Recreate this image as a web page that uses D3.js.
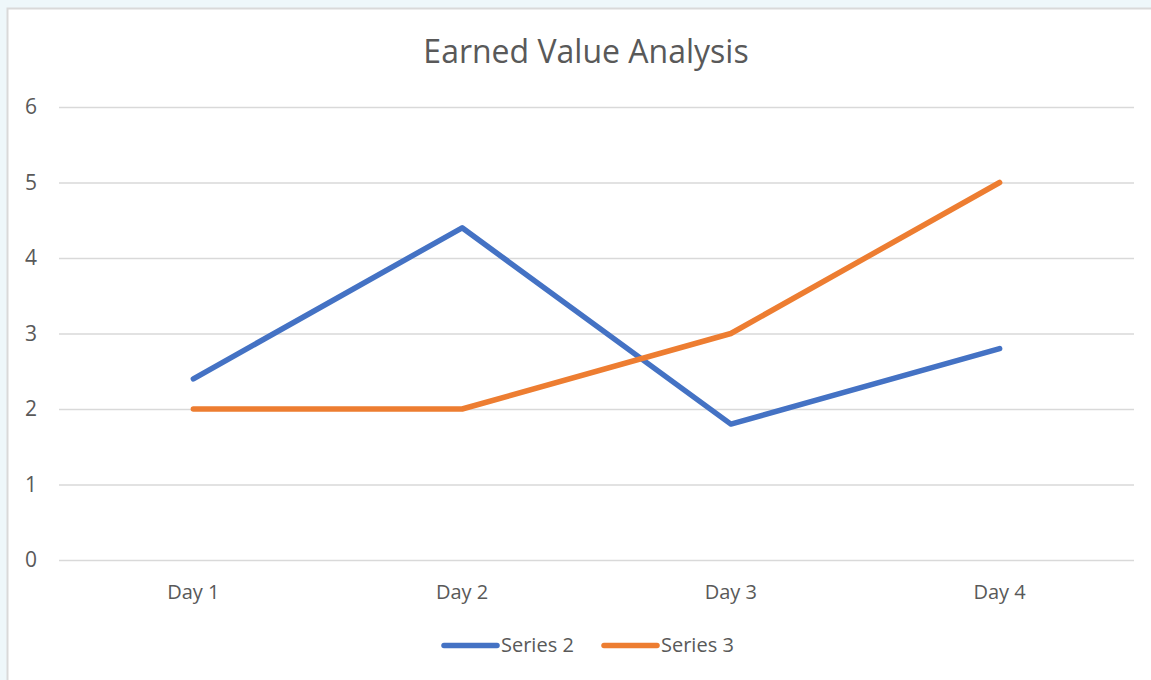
<!DOCTYPE html>
<html>
<head>
<meta charset="utf-8">
<script src="https://cdn.jsdelivr.net/npm/d3@7"></script>
<style>
  html, body { margin: 0; padding: 0; background: #eef7fa; overflow: hidden; }
  svg { display: block; }
  text { font-family: "Open Sans", "Noto Sans", sans-serif; fill: #595959; }
</style>
</head>
<body>
<svg id="chart" width="1151" height="680"></svg>
<script>
const categories = ["Day 1", "Day 2", "Day 3", "Day 4"];
const series2 = [2.4, 4.4, 1.8, 2.8];
const series3 = [2, 2, 3, 5];
const seriesNames = ["Series 2", "Series 3"];
const seriesColors = ["#4472c4", "#ed7d31"];
const yTicks = [0, 1, 2, 3, 4, 5, 6];

const svg = d3.select("#chart");

// chart area (runs off the right and bottom edge, like the screenshot)
svg.append("rect")
    .attr("x", 7.5).attr("y", 8.5)
    .attr("width", 1160).attr("height", 690)
    .attr("fill", "#ffffff")
    .attr("stroke", "#d9d9d9")
    .attr("stroke-width", 2);

const plot = { left: 59, right: 1134, top: 107, bottom: 560 };

const x = d3.scaleBand()
    .domain(categories)
    .range([plot.left, plot.right]);

const y = d3.scaleLinear()
    .domain([0, 6])
    .range([plot.bottom, plot.top]);

// gridlines
svg.append("g")
    .selectAll("line")
    .data(yTicks)
    .join("line")
    .attr("x1", plot.left).attr("x2", plot.right)
    .attr("y1", d => y(d) + 0.5).attr("y2", d => y(d) + 0.5)
    .attr("stroke", "#d9d9d9")
    .attr("stroke-width", 1.5);

// y labels
svg.append("g")
    .selectAll("text")
    .data(yTicks)
    .join("text")
    .attr("x", 31)
    .attr("y", d => y(d))
    .attr("dy", "0.35em")
    .attr("text-anchor", "middle")
    .style("font-size", "21px")
    .text(d => d);

// x labels
svg.append("g")
    .selectAll("text")
    .data(categories)
    .join("text")
    .attr("x", d => x(d) + x.bandwidth() / 2)
    .attr("y", 592)
    .attr("dy", "0.35em")
    .attr("text-anchor", "middle")
    .style("font-size", "20px")
    .text(d => d);

// title
svg.append("text")
    .attr("x", 586)
    .attr("y", 52)
    .attr("dy", "0.35em")
    .attr("text-anchor", "middle")
    .style("font-size", "32px")
    .text("Earned Value Analysis");

const line = d3.line()
    .x((d, i) => x(categories[i]) + x.bandwidth() / 2)
    .y(d => y(d));

[series2, series3].forEach((s, i) => {
    svg.append("path")
        .datum(s)
        .attr("d", line)
        .attr("fill", "none")
        .attr("stroke", seriesColors[i])
        .attr("stroke-width", 5.5)
        .attr("stroke-linecap", "round")
        .attr("stroke-linejoin", "round");
});

// legend
const legendItems = [
    { name: seriesNames[0], color: seriesColors[0], x: 444 },
    { name: seriesNames[1], color: seriesColors[1], x: 604 }
];
const legend = svg.append("g");
legendItems.forEach(d => {
    legend.append("line")
        .attr("x1", d.x).attr("x2", d.x + 53)
        .attr("y1", 645.5).attr("y2", 645.5)
        .attr("stroke", d.color)
        .attr("stroke-width", 5.5)
        .attr("stroke-linecap", "round");
    legend.append("text")
        .attr("x", d.x + 57)
        .attr("y", 645)
        .attr("dy", "0.35em")
        .style("font-size", "20px")
        .text(d.name);
});
</script>
</body>
</html>
